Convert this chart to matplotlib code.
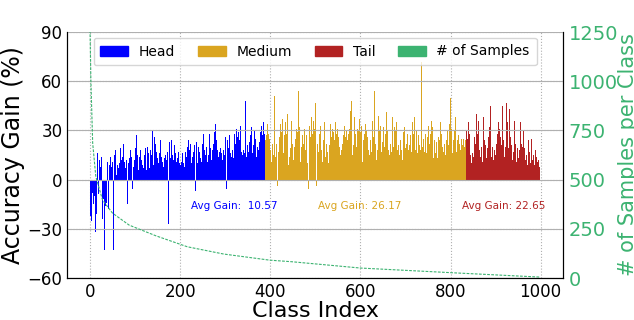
import numpy as np
import matplotlib
matplotlib.use('Agg')
import matplotlib.pyplot as plt
from matplotlib.patches import Patch

# accuracy gain per class (%)
head_gain = [
    -50, -22, -18, -25, -12, -20, -8, -24, -15, -30, -10, -19, -32, 6, -21, -14, 4, 16, -26, -9,
    -28, 12, -18, 8, -30, -22, 14, 5, -24, 10, -12, 3, -43, 9, -16, 12, 7, -14, 15, 11,
    6, -18, 13, 9, 22, -10, 14, 4, 8, -12, 11, 5, -43, 9, 15, 6, -8, 18, 12, 3,
    -15, 9, 14, 7, -6, 16, 10, 4, 19, 8, 12, 33, 14, 6, 22, -9, 17, 11, 25, 7,
    33, 12, 8, -15, 16, 10, 5, 20, 13, -7, 18, 9, 14, 6, -6, 17, 11, 8, 15, 12,
    9, 19, 13, 27, 7, 15, 11, 27, 6, -12, 14, 10, 18, 8, 12, -13, 16, 9, 13, 7,
    11, 15, 8, 19, 12, 6, 14, 10, 20, 9, 16, 23, 7, 13, 18, 11, 8, 15, 12, 30,
    15, 9, -20, 26, 14, 22, 11, 28, 17, 8, 13, 19, 10, 40, 16, 12, 24, 9, 18, 14,
    21, 11, 16, 8, 25, 13, 19, 10, 15, 22, 12, 9, 17, 14, -27, 11, 23, 16, 27, 13,
    19, 24, 10, 15, 27, 12, 18, 9, 21, 14, 16, -20, 11, 20, 13, 8, 17, 12, 15, 10,
    14, 9, 18, 11, 7, 16, 13, 19, 10, 15, 8, 12, 17, 6, 14, 11, 20, 9, 16, 24,
    13, 18, 11, 22, 15, 10, 25, 14, 19, 9, 17, 12, 21, 16, -7, 11, 23, 14, 18, 10,
    15, 20, 12, 17, 26, 13, 19, 11, 41, 16, 22, 14, 28, 12, 18, 24, 15, 30, 13, 20,
    17, 11, 25, 15, 21, 28, 13, 19, 16, 23, 12, 27, 18, 14, 22, 16, 29, 13, 20, 34,
    15, 24, 11, 18, 26, 14, 21, 17, 30, 13, 19, 25, 16, 22, 12, 28, 18, -8, 15, 23,
    17, 26, 13, -6, 20, 24, 15, 19, 12, 22, 27, 36, 16, 21, 14, 30, 18, 25, 13, 23,
    19, 28, 15, 22, 17, 31, 14, 26, 20, 16, 29, 18, 24, 13, 33, 21, 17, 27, 15, 41,
    22, 18, 30, 16, 25, 48, 19, 14, -3, 26, 21, -10, 17, 29, 23, 15, 27, 20, 32, 18,
    24, 16, 28, 21, 19, 30, 17, 25, 22, 14, 27, 38, 20, 26, 18, 31, 23, 16, 29, 21,
    25, 33, 19, 27, 22, 35, 18, 28, 24,
]
medium_gain = [
    24, 30, 16, 27, 12, 34, 20, 28, 14, 25, 32, 45, 18, 27, 11, 36, 22, 29, 15, 26,
    51, 19, 33, 14, 28, 22, 38, -4, 25, 17, 31, 12, 26, 20, 34, 15, 29, 19, 37, 23,
    16, 32, 10, 27, 21, 35, 13, 28, 18, 40, 24, 9, 30, 22, 14, 33, 19, 26, 36, 55,
    22, 17, 34, 12, 28, 20, 38, 25, 14, 31, 19, 29, 45, 21, 54, 15, 32, 24, 11, 30,
    20, 35, 16, 27, 53, 22, 13, 31, 24, 18, 37, 27, 55, 19, 10, 29, -6, 23, 33, 15,
    26, 18, 30, 38, 14, 28, 21, 36, 16, 31, 24, 47, 20, 29, -4, 45, 22, 34, 17, 47,
    28, 13, 33, 21, 39, 18, 27, 11, 30, 24, 16, 35, 20, 29, 14, 31, 22, 37, 17, 25,
    10, 30, 21, 28, 15, 34, 19, 26, 12, 31, 22, 29, 16, -2, 24, 20, 35, 14, 28, 21,
    31, 17, 26, 11, 34, 20, 29, 15, 24, 18, 40, 22, 13, 38, 27, 17, 33, 21, 26, 16,
    30, 14, 24, 35, 20, 28, 12, 31, 22, 42, 18, 48, 25, 15, 33, 56, 21, 29, 38, 17,
    28, 35, 20, 26, 41, 31, 16, 30, 22, 37, 13, 29, 21, 33, 17, 27, 11, 32, 24, 19,
    28, 16, 34, 22, 13, 30, 20, 26, 39, 18, 29, 15, 33, 24, 21, 53, 17, 28, 36, 14,
    26, 20, 54, 16, 32, 22, 28, 12, 35, 18, 27, 39, 21, 30, 15, 24, 33, 56, 17, 29,
    23, 14, 32, 25, 20, 36, 16, 28, 21, 41, 13, 30, 24, 18, 35, 27, 15, 33, 22, 29,
    17, 26, 38, 48, 20, 28, 14, 32, 22, 30, 16, 35, 24, 18, 40, 27, 21, 54, 15, 30,
    24, 33, 18, 28, 12, 36, 21, 29, 16, 32, 25, 19, 39, 22, 30, 14, 28, 35, 18, 26,
    21, 32, 27, 49, 17, 29, 22, 35, 15, 28, 20, 38, 25, 18, 42, 30, 23, 40, 16, 33,
    27, 39, 21, 30, 18, 36, 24, 72, 29, 20, 44, 25, 34, 17, 41, 28, 22, 32, 16, 37,
    26, 19, 33, 50, 22, 30, 15, 28, 21, 36, 17, 32, 25, 13, 29, 24, 19, 35, 16, 28,
    23, 32, 13, 8, 26, 19, 30, 24, 16, 35, 21, 28, 49, 20, 31, 17, 27, 37, 22, 29,
    15, 33, 24, 19, 30, 40, 21, 28, 17, 34, 25, 50, 20, 31, 22, 16, 29, 36, 24, 18,
    30, 21, 38, 26, 17, 33, 24, 20, 31, 27, 48, 22, 34, 18, 29, 25, 37, 52, 21, 31,
    25, 36, 20, 30, 24, 52,
]
tail_gain = [
    30, 18, 42, 25, 12, 35, 20, 28, 60, 15, 38, 22, 10, 24, 16, 31, 14, 19, 26, 12,
    22, 34, 17, 40, 13, 28, 21, 36, 50, 18, 30, 14, 25, 42, 20, 33, 11, 27, 38, 71,
    24, 16, 35, 21, 48, 13, 29, 19, 38, 26, 15, 32, 22, 17, 45, 28, 14, 34, 20, 25,
    12, 30, 36, 18, 27, 15, 33, 22, 10, 28, 19, 35, 14, 24, 31, 17, 26, 12, 21, 29,
    45, 18, 32, 24, 50, 14, 38, 20, 27, 47, 16, 35, 22, 60, 19, 30, 43, 15, 26, 38,
    21, 33, 12, 28, 45, 17, 25, 36, 14, 22, 30, 11, 27, 45, 19, 24, 13, 32, 18, 26,
    35, 14, 22, 28, 11, 20, 25, 30, 16, 19, 27, 12, 23, 30, 15, 21, 9, 18, 24, 13,
    17, 22, 10, 20, 14, 25, 36, 12, 19, 15, 21, 9, 16, 13, 18, 8, 14, 20, 11, 15,
    12, 17, 8, 14, 11,
]
avg_text = ['Avg Gain:  10.57', 'Avg Gain: 26.17', 'Avg Gain: 22.65']
avg_pos = [320, 598, 918]

# samples per class (sorted)
sample_idx = [0, 2, 6, 13, 28, 50, 87, 146, 216, 297, 399, 448, 600, 822, 999]
sample_cnt = [1280, 1006, 686, 515, 396, 330, 269, 215, 159, 122, 91, 83, 51, 25, 5]

c_head, c_med, c_tail = 'blue', 'goldenrod', 'firebrick'
c_samp = 'mediumseagreen'

n1, n2 = len(head_gain), len(medium_gain)
x_head = np.arange(n1)
x_med = np.arange(n1, n1 + n2)
x_tail = np.arange(n1 + n2, n1 + n2 + len(tail_gain))

fig, ax = plt.subplots(figsize=(6.34, 3.2), dpi=100)
fig.subplots_adjust(left=0.106, right=0.888, bottom=0.131, top=0.9)

ax.bar(x_head, head_gain, width=1.0, color=c_head, linewidth=0)
ax.bar(x_med, medium_gain, width=1.0, color=c_med, linewidth=0)
ax.bar(x_tail, tail_gain, width=1.0, color=c_tail, linewidth=0)
ax.set_ylim(-60, 90)
ax.set_yticks([-60, -30, 0, 30, 60, 90])
ax.set_xticks([0, 200, 400, 600, 800, 1000])
ax.grid(True, linestyle=':', color='#b0b0b0', linewidth=0.8)
ax.set_axisbelow(True)
ax.tick_params(labelsize=12, direction='in', length=0)
ax.set_xlabel('Class Index', fontsize=16, labelpad=0)
ax.set_ylabel('Accuracy Gain (%)', fontsize=17, labelpad=2)
ax.spines['top'].set_visible(False)

for txt, xp, col in zip(avg_text, avg_pos, [c_head, c_med, c_tail]):
    ax.text(xp, -16, txt, color=col, fontsize=7.5, ha='center', va='center')

ax2 = ax.twinx()
ax2.plot(sample_idx, sample_cnt, color=c_samp, linestyle='--', linewidth=0.8, dashes=(2.5, 1.2))
ax2.set_ylim(0, 1250)
ax2.set_yticks([0, 250, 500, 750, 1000, 1250])
ax2.grid(True, axis='y', color='#b0b0b0', linewidth=0.8)
ax2.tick_params(labelsize=14, colors=c_samp, direction='in', length=0, pad=4)
ax2.set_ylabel('# of Samples per Class', fontsize=15, color=c_samp, labelpad=0)
ax2.spines['top'].set_visible(False)

handles = [Patch(color=c_head, label='Head'), Patch(color=c_med, label='Medium'),
           Patch(color=c_tail, label='Tail'), Patch(color=c_samp, label='# of Samples')]
ax2.legend(handles=handles, ncol=4, loc='upper center', bbox_to_anchor=(0.5, 1.0),
           fontsize=10, borderaxespad=0.4, borderpad=0.5, columnspacing=1.65,
           handletextpad=0.75)

fig.savefig('out.png', dpi=100)
